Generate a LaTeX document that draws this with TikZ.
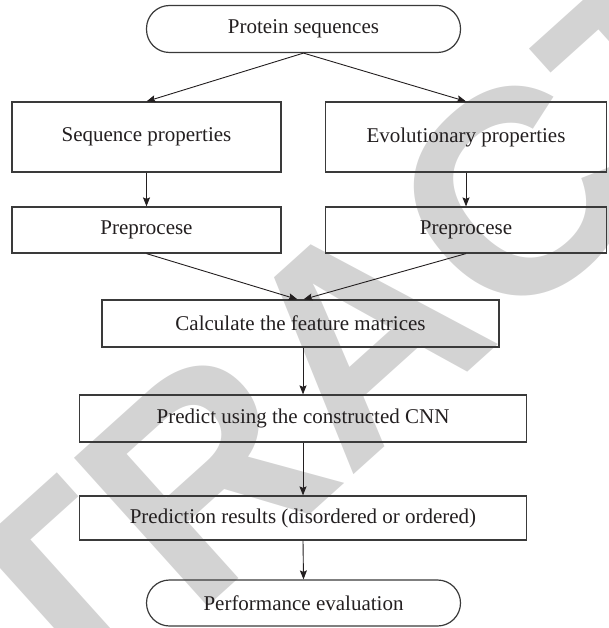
\documentclass[tikz,border=0pt]{standalone}
\usepackage{fontspec}
\setmainfont{Liberation Serif}
\newfontfamily\wmfont{Liberation Sans}
\usetikzlibrary{arrows.meta}
\definecolor{txt}{HTML}{231F20}
\definecolor{boxline}{HTML}{3A3A3A}
\definecolor{wmgray}{HTML}{D3D3D3}
\begin{document}
\begin{tikzpicture}[x=1pt,y=-1pt,
  box/.style={draw=boxline, line width=1.2pt, text=txt, inner sep=0pt,
    font=\fontsize{21}{24}\selectfont},
  term/.style={box, rounded corners=23pt},
  arr/.style={draw=txt, line width=0.9pt, -{Stealth[length=9pt,width=7pt,inset=1.5pt]}},
  wmstyle/.style={text=wmgray, inner sep=0pt, font=\wmfont\bfseries\fontsize{290}{290}\selectfont}]
\useasboundingbox (0,0) rectangle (608,628);
\begin{scope}
\clip (0,0) rectangle (608,628);
\node[wmstyle, rotate=42] (wm) at (360,335) {RETRACTED};
\end{scope}
\node[term, minimum width=314pt, minimum height=47pt] (prot) at (303.5,29) {Protein sequences};
\node[box, minimum width=269pt, minimum height=70pt] (seq) at (146.5,137) {Sequence properties};
\node[box, minimum width=281pt, minimum height=70pt] (evo) at (466,137) {Evolutionary properties};
\node[box, minimum width=269pt, minimum height=46pt] (pre1) at (146.5,230) {Preprocese};
\node[box, minimum width=281pt, minimum height=46pt] (pre2) at (466,230) {Preprocese};
\node[box, minimum width=397pt, minimum height=47pt] (calc) at (300.5,323.5) {Calculate the feature matrices};
\node[box, minimum width=447pt, minimum height=47pt] (pred) at (303,418.5) {Predict using the constructed CNN};
\node[box, minimum width=447pt, minimum height=44pt] (res) at (303,518) {Prediction results (disordered or ordered)};
\node[term, minimum width=314pt, minimum height=46pt] (perf) at (303.5,603) {Performance evaluation};
\draw[arr] (prot.south) -- (seq.north);
\draw[arr] (prot.south) -- (evo.north);
\draw[arr] (seq.south) -- (pre1.north);
\draw[arr] (evo.south) -- (pre2.north);
\draw[arr] (pre1.south) -- ([xshift=-3pt]calc.north);
\draw[arr] (pre2.south) -- ([xshift=3pt]calc.north);
\draw[arr] (pred.north |- calc.south) -- (pred.north);
\draw[arr] (pred.south) -- (res.north);
\draw[arr] (res.south) -- (perf.north);
\end{tikzpicture}
\end{document}
